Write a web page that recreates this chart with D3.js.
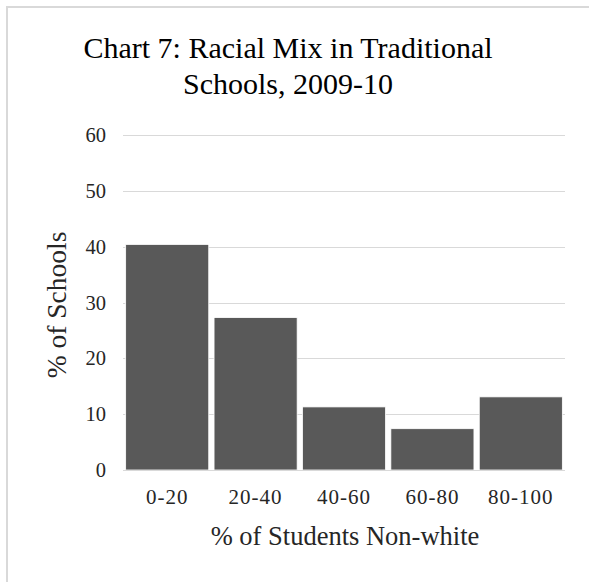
<!DOCTYPE html>
<html>
<head>
<meta charset="utf-8">
<script src="https://cdn.jsdelivr.net/npm/d3@7"></script>
<style>
  html, body { margin: 0; padding: 0; background: #fff; }
  svg { display: block; font-family: "Liberation Serif", "Times New Roman", serif; }
</style>
</head>
<body>
<svg id="chart" width="589" height="582"></svg>
<script>
// Share of traditional schools by percentage of non-white students, 2009-10
const categories = ["0-20", "20-40", "40-60", "60-80", "80-100"];
const schoolShares = [40.4, 27.3, 11.3, 7.4, 13.1];
const yTicks = [0, 10, 20, 30, 40, 50, 60];
const titleLines = ["Chart 7: Racial Mix in Traditional", "Schools, 2009-10"];
const xTitle = "% of Students Non-white";
const yTitle = "% of Schools";

const svg = d3.select("#chart");
const plot = { left: 123, right: 565, top: 135, bottom: 470 };

// chart-area frame (top and left edges visible)
svg.append("path")
  .attr("d", `M7,582 L7,7 L589,7`)
  .attr("fill", "none")
  .attr("stroke", "#d9d9d9")
  .attr("stroke-width", 2);

const x = d3.scaleBand()
  .domain(categories)
  .range([plot.left, plot.right])
  .paddingInner(0.06)
  .paddingOuter(0.03);

const y = d3.scaleLinear()
  .domain([0, 60])
  .range([plot.bottom, plot.top]);

// horizontal gridlines
svg.append("g")
  .selectAll("line")
  .data(yTicks)
  .join("line")
  .attr("x1", plot.left)
  .attr("x2", plot.right)
  .attr("y1", d => Math.round(y(d)) + 0.5)
  .attr("y2", d => Math.round(y(d)) + 0.5)
  .attr("stroke", "#d9d9d9")
  .attr("stroke-width", 1);

// y axis labels
const yAxis = d3.axisLeft(y).tickValues(yTicks).tickSize(0).tickPadding(0);
svg.append("g")
  .attr("transform", `translate(106,0)`)
  .call(yAxis)
  .call(g => g.select(".domain").remove())
  .call(g => g.selectAll("text")
    .attr("font-family", "Liberation Serif, serif")
    .attr("font-size", 20.5)
    .attr("fill", "#262626"));

// bars
svg.append("g")
  .selectAll("rect")
  .data(schoolShares)
  .join("rect")
  .attr("x", (d, i) => x(categories[i]))
  .attr("width", x.bandwidth())
  .attr("y", d => y(d))
  .attr("height", d => y(0) - y(d))
  .attr("fill", "#595959")
  .attr("stroke", "#ffffff")
  .attr("stroke-width", 0.8);

// baseline
svg.append("line")
  .attr("x1", plot.left).attr("x2", plot.right)
  .attr("y1", y(0) + 0.5).attr("y2", y(0) + 0.5)
  .attr("stroke", "#d9d9d9");

// category labels
const xAxis = d3.axisBottom(x).tickSize(0).tickPadding(0);
svg.append("g")
  .attr("transform", `translate(0,${plot.bottom + 19})`)
  .call(xAxis)
  .call(g => g.select(".domain").remove())
  .call(g => g.selectAll("text")
    .attr("font-family", "Liberation Serif, serif")
    .attr("font-size", 21)
    .attr("letter-spacing", "1px")
    .attr("fill", "#262626"));

// title
svg.append("g")
  .selectAll("text")
  .data(titleLines)
  .join("text")
  .attr("x", 288)
  .attr("y", (d, i) => 58 + i * 36)
  .attr("text-anchor", "middle")
  .attr("font-size", 30)
  .attr("fill", "#000")
  .text(d => d);

// axis titles
svg.append("text")
  .attr("x", 345)
  .attr("y", 545)
  .attr("text-anchor", "middle")
  .attr("font-size", 26.5)
  .attr("fill", "#262626")
  .text(xTitle);

svg.append("text")
  .attr("transform", `translate(66,305) rotate(-90)`)
  .attr("text-anchor", "middle")
  .attr("font-size", 27.5)
  .attr("fill", "#262626")
  .text(yTitle);
</script>
</body>
</html>
